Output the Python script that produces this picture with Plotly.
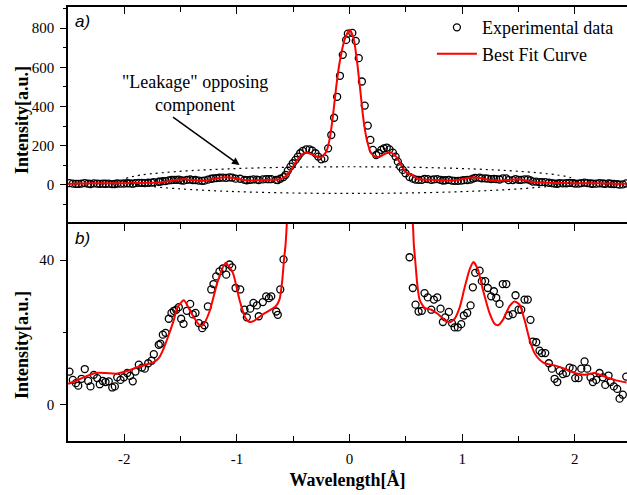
import plotly.graph_objects as go

# Measured spectrum (wavelength offset in Å, intensity in a.u.)
wl_exp = [
    -2.487, -2.457, -2.430, -2.409, -2.380, -2.351, -2.321, -2.300, -2.271, -2.241,
    -2.218, -2.191, -2.167, -2.138, -2.107, -2.084, -2.063, -2.034, -2.004, -1.974,
    -1.949, -1.925, -1.901, -1.871, -1.843, -1.818, -1.788, -1.758, -1.738, -1.694,
    -1.679, -1.658, -1.634, -1.605, -1.581, -1.560, -1.539, -1.516, -1.495, -1.474,
    -1.445, -1.415, -1.392, -1.368, -1.338, -1.308, -1.288, -1.258, -1.228, -1.208,
    -1.184, -1.155, -1.125, -1.095, -1.066, -1.042, -1.012, -0.971, -0.933, -0.912,
    -0.882, -0.853, -0.823, -0.806, -0.770, -0.740, -0.716, -0.695, -0.651, -0.637,
    -0.615, -0.586, -0.567, -0.548, -0.524, -0.504, -0.480, -0.459, -0.438, -0.415,
    -0.385, -0.355, -0.331, -0.302, -0.278, -0.251, -0.222, -0.190, -0.162, -0.137,
    -0.110, -0.085, -0.060, -0.030, -0.015, 0.025, 0.055, 0.082, 0.110, 0.135,
    0.162, 0.185, 0.207, 0.237, 0.260, 0.282, 0.305, 0.331, 0.355, 0.385,
    0.409, 0.429, 0.450, 0.473, 0.497, 0.533, 0.562, 0.586, 0.613, 0.642,
    0.666, 0.695, 0.726, 0.749, 0.779, 0.808, 0.829, 0.850, 0.882, 0.909,
    0.933, 0.962, 0.992, 1.015, 1.045, 1.075, 1.095, 1.116, 1.155, 1.175,
    1.205, 1.228, 1.258, 1.282, 1.303, 1.332, 1.361, 1.392, 1.412, 1.450,
    1.474, 1.501, 1.525, 1.554, 1.583, 1.607, 1.628, 1.658, 1.687, 1.708,
    1.738, 1.770, 1.797, 1.821, 1.845, 1.865, 1.894, 1.925, 1.954, 1.983,
    2.004, 2.034, 2.058, 2.087, 2.111, 2.140, 2.161, 2.191, 2.220, 2.250,
    2.271, 2.300, 2.318, 2.347, 2.377, 2.398, 2.427, 2.457,
]
int_exp = [
    9.2, 6.9, 6.0, 5.3, 7.2, 9.9, 6.6, 5.1, 8.3, 7.4,
    5.7, 6.6, 6.3, 6.5, 4.8, 5.1, 7.6, 6.9, 7.6, 8.8,
    8.0, 6.5, 9.2, 11.1, 10.3, 10.0, 11.5, 12.2, 14.0, 16.6,
    16.9, 19.4, 19.9, 23.8, 25.4, 26.0, 26.3, 27.0, 23.8, 22.4,
    26.0, 27.9, 25.0, 25.4, 22.6, 21.2, 22.0, 27.2, 31.9, 33.4,
    35.5, 36.9, 37.7, 36.0, 38.8, 38.0, 32.3, 31.9, 26.3, 24.2,
    26.6, 28.2, 27.5, 24.5, 28.4, 30.0, 29.5, 30.0, 25.8, 24.9,
    31.9, 40.2, 52, 73, 94, 111, 128, 145, 162, 174,
    182, 182, 175, 162, 145, 131, 136, 187, 255, 343,
    450, 557, 664, 740, 772, 776, 735, 647, 528, 405,
    303, 230, 179, 153, 162, 179, 187, 191, 182, 165,
    145, 119, 94, 77, 60, 40.8, 32.3, 27.7, 25.8, 26.0,
    30.9, 29.7, 26.3, 29.1, 29.7, 26.6, 22.9, 24.2, 25.7, 22.6,
    21.4, 21.4, 22.3, 24.7, 25.4, 27.5, 32.5, 36.5, 37.1, 34.2,
    34.2, 32.3, 30.0, 31.4, 29.6, 27.9, 33.4, 33.4, 24.7, 25.1,
    30.3, 26.3, 26.3, 29.1, 29.1, 23.5, 17.5, 17.3, 15.0, 14.3,
    14.3, 11.5, 10.0, 7.2, 6.3, 9.4, 8.5, 8.8, 10.3, 10.0,
    7.4, 7.4, 10.0, 12.0, 10.0, 7.6, 6.3, 6.9, 8.8, 7.6,
    5.5, 8.1, 6.3, 5.1, 4.4, 1.7, 2.8, 7.8,
]

# Best fit curve
wl_fit = [
    -2.500, -2.433, -2.345, -2.256, -2.167, -2.078, -1.989, -1.901, -1.812, -1.738,
    -1.694, -1.649, -1.605, -1.560, -1.530, -1.472, -1.406, -1.332, -1.303, -1.243,
    -1.170, -1.101, -1.036, -0.977, -0.924, -0.888, -0.844, -0.784, -0.710, -0.657,
    -0.622, -0.598, -0.583, -0.568, -0.557, -0.518, -0.473, -0.429, -0.385, -0.340,
    -0.296, -0.251, -0.207, -0.178, -0.148, -0.118, -0.089, -0.044, 0.000, 0.036,
    0.065, 0.095, 0.124, 0.154, 0.193, 0.237, 0.282, 0.326, 0.370, 0.415,
    0.459, 0.504, 0.562, 0.571, 0.584, 0.602, 0.622, 0.666, 0.726, 0.785,
    0.844, 0.888, 0.933, 0.977, 1.021, 1.066, 1.101, 1.140, 1.184, 1.243,
    1.288, 1.318, 1.362, 1.421, 1.465, 1.510, 1.554, 1.599, 1.643, 1.687,
    1.732, 1.821, 1.909, 1.998, 2.087, 2.176, 2.265, 2.353, 2.460,
]
int_fit = [
    5.8, 6.6, 7.8, 8.8, 8.8, 8.6, 9.2, 10.2, 11.1, 11.8,
    12.9, 15.7, 19.4, 23.5, 26.8, 28.9, 25.4, 22.0, 22.0, 25.8,
    34.2, 39.2, 36.5, 29.0, 24.0, 22.9, 23.3, 24.7, 26.1, 27.2,
    29.1, 34.2, 39.7, 44.3, 50, 77, 119, 153, 165, 158,
    145, 141, 170, 230, 349, 502, 621, 740, 792, 749,
    638, 485, 332, 230, 162, 141, 148, 162, 165, 145,
    102, 63, 50, 44.3, 39.7, 33.2, 29.1, 26.8, 26.3, 25.1,
    23.5, 22.8, 23.8, 26.8, 32.3, 37.4, 39.5, 37.4, 31.9, 25.4,
    22.4, 22.0, 23.5, 27.3, 28.6, 27.7, 23.5, 18.0, 14.3, 12.5,
    11.5, 10.9, 10.0, 8.8, 8.3, 8.8, 7.8, 6.9, 6.2,
]

x_tickvals = [-2, -1, 0, 1, 2]
x_ticktext = ["-2", "-1", "0", "1", "2"]

SERIF = "Liberation Serif, Times New Roman, Times, serif"
SANS = "Liberation Sans, Arial, sans-serif"
tick_font = dict(family=SERIF, size=15, color="black")

marker_style = dict(symbol="circle-open", size=7, color="black", line=dict(width=1.3, color="black"))
line_style = dict(color="#ff0000", width=2, shape="spline", smoothing=0.6)

fig = go.Figure()

# lower panel (b): zoom on the wings
fig.add_trace(go.Scatter(x=wl_exp, y=int_exp, mode="markers", marker=marker_style,
                         xaxis="x", yaxis="y", showlegend=False))
fig.add_trace(go.Scatter(x=wl_fit, y=int_fit, mode="lines", line=line_style,
                         xaxis="x", yaxis="y", showlegend=False))

# upper panel (a): full spectrum
fig.add_trace(go.Scatter(x=wl_exp, y=int_exp, mode="markers", marker=marker_style,
                         xaxis="x2", yaxis="y2", name="Experimental data"))
fig.add_trace(go.Scatter(x=wl_fit, y=int_fit, mode="lines", line=line_style,
                         xaxis="x2", yaxis="y2", name="Best Fit Curve"))

common_axis = dict(showline=True, linecolor="black", linewidth=1.5, showgrid=False,
                   zeroline=False, tickcolor="black", tickwidth=1.3, tickfont=tick_font)

fig.update_layout(
    width=627, height=495,
    margin=dict(l=68, r=0, t=7, b=54),
    paper_bgcolor="white", plot_bgcolor="white",
    font=dict(family=SERIF, color="black"),
    xaxis=dict(domain=[0, 1], anchor="y", range=[-2.5, 2.464],
               tickmode="array", tickvals=x_tickvals, ticktext=x_ticktext,
               ticks="inside", ticklen=7, mirror="allticks", ticklabelstandoff=3,
               minor=dict(tickmode="linear", tick0=0, dtick=0.5, ticks="inside",
                          ticklen=5, tickcolor="black", tickwidth=1.3),
               title=dict(text="<b>Wavelength[Å]</b>", font=dict(family=SERIF, size=18, color="black"),
                          standoff=8),
               **common_axis),
    yaxis=dict(domain=[0, 0.5], anchor="x", range=[-10, 50],
               tickmode="linear", tick0=0, dtick=40, ticks="outside", ticklen=6,
               ticklabelstandoff=3,
               minor=dict(tickmode="linear", tick0=0, dtick=20, ticks="outside",
                          ticklen=3.5, tickcolor="black", tickwidth=1.3),
               **common_axis),
    xaxis2=dict(domain=[0, 1], anchor="y2", side="top", matches="x",
                tickmode="array", tickvals=x_tickvals, showticklabels=False,
                ticks="inside", ticklen=7,
                minor=dict(tickmode="linear", tick0=0, dtick=0.5, ticks="inside",
                           ticklen=5, tickcolor="black", tickwidth=1.3),
                **common_axis),
    yaxis2=dict(domain=[0.5, 1], anchor="x2", range=[-199, 908],
                tickmode="linear", tick0=0, dtick=200, ticks="outside", ticklen=6,
                ticklabelstandoff=3,
                minor=dict(tickmode="linear", tick0=0, dtick=100, ticks="outside",
                           ticklen=3.5, tickcolor="black", tickwidth=1.3),
                **common_axis),
    legend=dict(x=0.651, y=0.995, xanchor="left", yanchor="top",
                font=dict(family=SERIF, size=18, color="black"),
                bgcolor="rgba(0,0,0,0)", itemwidth=40, tracegroupgap=0),
    showlegend=True,
)

# dotted envelope marking the opposing component
fig.add_shape(type="circle", xref="x2", yref="y2", x0=-2.0, x1=2.0, y0=-43, y1=93,
              line=dict(color="black", width=1.2, dash="2px,4px"))

annotations = [
    dict(text="<b>Intensity[a.u.]</b>", xref="paper", yref="paper", x=-0.0823, y=0.7396,
         textangle=-90, showarrow=False, xanchor="center", yanchor="middle",
         font=dict(family=SERIF, size=18, color="black")),
    dict(text="<b>Intensity[a.u.]</b>", xref="paper", yref="paper", x=-0.0823, y=0.2212,
         textangle=-90, showarrow=False, xanchor="center", yanchor="middle",
         font=dict(family=SERIF, size=18, color="black")),
    dict(text="<i>a)</i>", xref="paper", yref="paper", x=0.009, y=0.9677,
         showarrow=False, xanchor="left", yanchor="middle",
         font=dict(family=SANS, size=17, color="black")),
    dict(text="<i>b)</i>", xref="paper", yref="paper", x=0.009, y=0.4677,
         showarrow=False, xanchor="left", yanchor="middle",
         font=dict(family=SANS, size=17, color="black")),
    dict(text="\"Leakage\" opposing<br>component", xref="x2", yref="y2", x=-1.368, y=465,
         showarrow=False, xanchor="center", yanchor="middle",
         font=dict(family=SERIF, size=18, color="black")),
    dict(text="", xref="x2", yref="y2", x=-0.977, y=102, axref="x2", ayref="y2",
         ax=-1.581, ay=352, showarrow=True, arrowhead=2, arrowsize=1, arrowwidth=1.5,
         arrowcolor="black"),
]
fig.update_layout(annotations=annotations)

fig.write_html("out.html")
